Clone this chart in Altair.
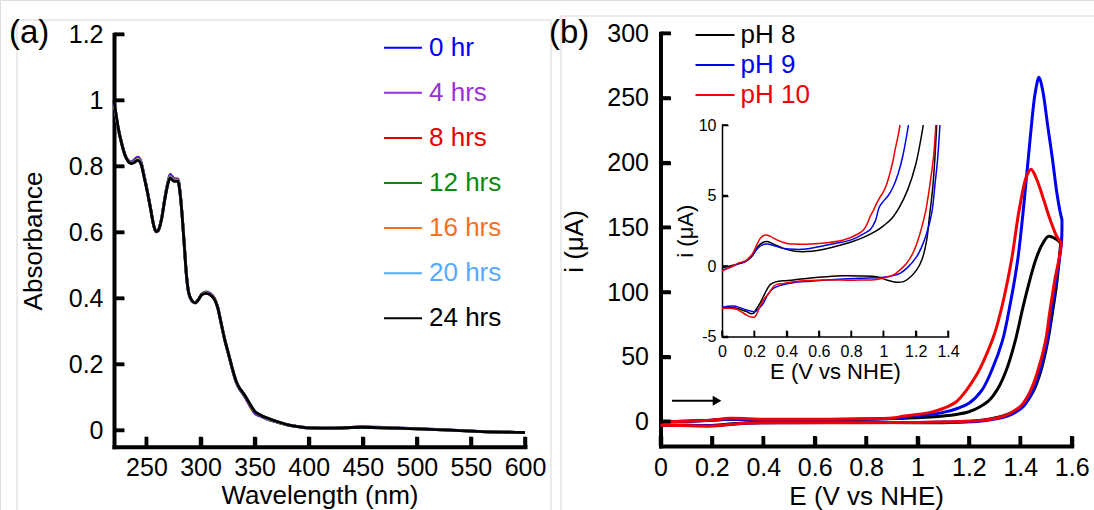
import altair as alt
import pandas as pd

FONT = "Liberation Sans"
W, H = 1094, 510

# ---------------- Panel (a): UV-vis spectra ----------------
wavelength_nm = [220, 222, 224, 227, 230, 233, 236, 239, 242, 245,
                 248, 251, 254, 257, 259, 261, 264, 267, 270, 272,
                 274, 276, 279, 281, 283, 285, 287, 289, 292, 295,
                 298, 301, 305, 309, 313, 316, 319, 322, 326, 330,
                 333, 336, 339, 342, 346, 350, 355, 360, 370, 380,
                 390, 400, 420, 450, 480, 500, 530, 560, 600]

series_a = ["0 hr", "4 hrs", "8 hrs", "12 hrs", "16 hrs", "20 hrs", "24 hrs"]
colors_a = ["#0000ff", "#9b30d9", "#e60000", "#0a8a0a", "#f5701e", "#55aaff", "#000000"]

abs_0hr = [0.990, 0.950, 0.912, 0.870, 0.836, 0.818, 0.813, 0.820, 0.828, 0.814,
           0.770, 0.722, 0.668, 0.617, 0.601, 0.606, 0.642, 0.704, 0.755, 0.775,
           0.768, 0.762, 0.762, 0.726, 0.652, 0.560, 0.468, 0.416, 0.392, 0.386,
           0.396, 0.412, 0.419, 0.414, 0.399, 0.372, 0.325, 0.279, 0.228, 0.177,
           0.145, 0.125, 0.111, 0.095, 0.072, 0.052, 0.043, 0.036, 0.025, 0.016,
           0.011, 0.007, 0.006, 0.010, 0.007, 0.005, 0.001, -0.004, -0.007]
abs_4hrs = [0.993, 0.952, 0.913, 0.870, 0.836, 0.817, 0.811, 0.817, 0.825, 0.811,
            0.768, 0.721, 0.668, 0.617, 0.601, 0.606, 0.641, 0.703, 0.753, 0.772,
            0.765, 0.760, 0.760, 0.724, 0.651, 0.560, 0.469, 0.417, 0.392, 0.386,
            0.396, 0.411, 0.418, 0.413, 0.398, 0.371, 0.325, 0.279, 0.229, 0.178,
            0.146, 0.126, 0.113, 0.097, 0.074, 0.054, 0.045, 0.037, 0.026, 0.016,
            0.011, 0.007, 0.006, 0.010, 0.007, 0.005, 0.001, -0.004, -0.007]
abs_8hrs = [0.995, 0.953, 0.914, 0.870, 0.836, 0.817, 0.810, 0.816, 0.823, 0.810,
            0.767, 0.721, 0.668, 0.617, 0.601, 0.606, 0.641, 0.702, 0.752, 0.770,
            0.763, 0.758, 0.759, 0.723, 0.651, 0.560, 0.469, 0.417, 0.393, 0.386,
            0.396, 0.411, 0.417, 0.412, 0.398, 0.371, 0.325, 0.280, 0.229, 0.179,
            0.147, 0.127, 0.114, 0.098, 0.075, 0.055, 0.045, 0.038, 0.026, 0.017,
            0.011, 0.007, 0.006, 0.009, 0.006, 0.004, 0.000, -0.004, -0.007]
abs_12hrs = [0.996, 0.954, 0.914, 0.870, 0.835, 0.816, 0.810, 0.815, 0.822, 0.809,
             0.767, 0.721, 0.668, 0.617, 0.602, 0.606, 0.641, 0.701, 0.751, 0.769,
             0.762, 0.757, 0.758, 0.722, 0.651, 0.560, 0.470, 0.417, 0.393, 0.386,
             0.395, 0.411, 0.417, 0.412, 0.397, 0.371, 0.325, 0.280, 0.229, 0.179,
             0.147, 0.127, 0.114, 0.099, 0.076, 0.056, 0.046, 0.038, 0.026, 0.017,
             0.011, 0.007, 0.006, 0.009, 0.006, 0.004, 0.000, -0.004, -0.007]
abs_16hrs = [0.997, 0.954, 0.915, 0.870, 0.835, 0.816, 0.809, 0.814, 0.821, 0.808,
             0.766, 0.720, 0.668, 0.617, 0.602, 0.606, 0.640, 0.701, 0.750, 0.768,
             0.761, 0.756, 0.757, 0.721, 0.650, 0.560, 0.470, 0.418, 0.393, 0.386,
             0.395, 0.410, 0.416, 0.411, 0.397, 0.370, 0.325, 0.280, 0.230, 0.180,
             0.148, 0.128, 0.115, 0.099, 0.077, 0.057, 0.046, 0.039, 0.027, 0.017,
             0.011, 0.007, 0.006, 0.009, 0.006, 0.004, 0.000, -0.004, -0.007]
abs_20hrs = [0.998, 0.955, 0.915, 0.870, 0.835, 0.815, 0.809, 0.813, 0.820, 0.807,
             0.766, 0.720, 0.668, 0.617, 0.602, 0.606, 0.640, 0.700, 0.749, 0.767,
             0.760, 0.755, 0.756, 0.720, 0.650, 0.560, 0.470, 0.418, 0.393, 0.386,
             0.395, 0.410, 0.415, 0.410, 0.396, 0.370, 0.325, 0.280, 0.230, 0.180,
             0.148, 0.128, 0.115, 0.100, 0.078, 0.058, 0.047, 0.039, 0.027, 0.017,
             0.011, 0.007, 0.006, 0.009, 0.006, 0.004, 0.000, -0.004, -0.007]
abs_24hrs = [1.000, 0.955, 0.915, 0.870, 0.835, 0.815, 0.808, 0.812, 0.818, 0.806,
             0.765, 0.720, 0.668, 0.617, 0.602, 0.606, 0.640, 0.700, 0.748, 0.765,
             0.758, 0.754, 0.755, 0.720, 0.650, 0.560, 0.470, 0.418, 0.393, 0.386,
             0.395, 0.410, 0.415, 0.410, 0.396, 0.370, 0.325, 0.280, 0.230, 0.180,
             0.148, 0.128, 0.115, 0.100, 0.078, 0.058, 0.047, 0.039, 0.027, 0.017,
             0.011, 0.007, 0.006, 0.009, 0.006, 0.004, 0.000, -0.004, -0.007]

a_xticks = [250, 300, 350, 400, 450, 500, 550, 600]
a_yticks = [0, 0.2, 0.4, 0.6, 0.8, 1.0, 1.2]

# ---------------- Panel (b): cyclic voltammograms ----------------
series_b = ["pH 8", "pH 9", "pH 10"]
colors_b = ["#000000", "#0000f0", "#f00000"]

# main plot, forward (anodic) and reverse scans
ph8_fwd_E = [0.0, 0.1, 0.2, 0.27, 0.4, 0.6, 0.8, 0.95, 1.05, 1.15, 1.2, 1.24, 1.282,
             1.32, 1.35, 1.38, 1.41, 1.438, 1.46, 1.483, 1.509, 1.535, 1.557]
ph8_fwd_i = [-0.2, 0.2, 0.9, 1.7, 1.2, 1.2, 1.7, 2.5, 3.4, 5.4, 7.5, 11, 17,
             28, 42, 62, 88, 110, 125, 136, 143, 141.5, 138]
ph8_rev_E = [1.557, 1.55, 1.54, 1.525, 1.505, 1.48, 1.45, 1.42, 1.38, 1.33, 1.27,
             1.2, 1.1, 1.0, 0.8, 0.5, 0.35, 0.28, 0.22, 0.18, 0.1, 0.0]
ph8_rev_i = [138, 122, 104, 84, 60, 39, 23, 14, 8, 4, 1.5,
             0, -1.0, -1.0, -0.7, -0.8, -1.1, -1.8, -3.0, -3.4, -3.0, -3.0]

ph9_fwd_E = [0.0, 0.1, 0.2, 0.27, 0.45, 0.6, 0.8, 0.94, 0.98, 1.02, 1.06, 1.1, 1.155,
             1.2, 1.25, 1.29, 1.33, 1.36, 1.39, 1.415, 1.44, 1.458, 1.473, 1.487,
             1.507, 1.525, 1.542, 1.555, 1.562]
ph9_fwd_i = [-0.3, 0.2, 0.9, 1.6, 1.2, 1.4, 1.8, 2.7, 4.2, 4.8, 5.6, 7.0, 10,
             14, 24, 40, 62, 90, 125, 170, 222, 254, 266, 256,
             228, 203, 177, 162, 156]
ph9_rev_E = [1.562, 1.56, 1.542, 1.522, 1.503, 1.47, 1.444, 1.412, 1.38, 1.347, 1.29,
             1.23, 1.1, 1.0, 0.8, 0.5, 0.35, 0.28, 0.22, 0.18, 0.1, 0.0]
ph9_rev_i = [156, 138, 112, 86, 61, 35, 22, 11.6, 7, 3.9, 1.5,
             0, -0.5, -0.8, -0.9, -1.0, -1.3, -2.2, -3.0, -3.2, -2.9, -2.9]

ph10_fwd_E = [0.0, 0.1, 0.2, 0.27, 0.4, 0.6, 0.8, 0.9, 0.95, 1.0, 1.05, 1.10, 1.15,
              1.19, 1.23, 1.26, 1.30, 1.33, 1.366, 1.396, 1.425, 1.442, 1.464, 1.49,
              1.516, 1.542, 1.56]
ph10_fwd_i = [-0.3, 0.2, 1.0, 2.4, 1.7, 1.7, 2.0, 2.6, 4.2, 5.3, 7.0, 10, 15,
              24, 36, 48, 68, 90, 125, 164, 190, 195, 187, 172,
              156, 143, 138]
ph10_rev_E = [1.56, 1.55, 1.535, 1.515, 1.498, 1.465, 1.438, 1.405, 1.37, 1.34, 1.28,
              1.23, 1.1, 1.0, 0.8, 0.5, 0.35, 0.28, 0.2, 0.15, 0.08, 0.0]
ph10_rev_i = [138, 125, 110, 85, 62, 37, 23, 12.5, 7.5, 4.5, 1.5,
              0.5, -0.5, -0.9, -1.0, -1.0, -1.3, -2.2, -3.6, -3.5, -3.1, -3.0]

# inset (zoom of the low-current region)
in8_fwd_E = [0, 0.05, 0.10, 0.15, 0.19, 0.22, 0.25, 0.28, 0.32, 0.38, 0.45, 0.52,
             0.60, 0.70, 0.80, 0.88, 0.95, 1.00, 1.05, 1.10, 1.15, 1.20, 1.247]
in8_fwd_i = [-0.15, 0.0, 0.15, 0.35, 0.75, 1.35, 1.65, 1.73, 1.55, 1.25, 1.05, 1.02,
             1.12, 1.38, 1.7, 2.05, 2.45, 2.85, 3.35, 4.2, 5.4, 7.2, 10]
in8_rev_E = [1.33, 1.318, 1.305, 1.285, 1.268, 1.24, 1.206, 1.16, 1.124, 1.08,
             1.02, 0.958, 0.855, 0.75, 0.648, 0.55, 0.442, 0.38, 0.339, 0.30,
             0.277, 0.255, 0.235, 0.21, 0.194, 0.17, 0.153, 0.12, 0.091, 0.05, 0]
in8_rev_i = [10, 7.5, 5.5, 3.5, 1.84, 0.5, -0.28, -0.85, -1.11, -1.15,
             -0.99, -0.76, -0.71, -0.7, -0.76, -0.85, -0.99, -1.05, -1.11, -1.3,
             -1.7, -2.2, -2.65, -3.1, -3.36, -3.35, -3.24, -3.1, -3.0, -2.95, -3.0]

in9_fwd_E = [0, 0.05, 0.10, 0.15, 0.19, 0.22, 0.25, 0.28, 0.32, 0.38, 0.45, 0.52,
             0.60, 0.70, 0.80, 0.88, 0.92, 0.95, 0.975, 1.00, 1.03, 1.06, 1.09, 1.12, 1.155]
in9_fwd_i = [-0.3, -0.1, 0.15, 0.35, 0.8, 1.25, 1.5, 1.56, 1.45, 1.25, 1.18, 1.2,
             1.37, 1.6, 1.85, 2.3, 2.6, 3.2, 4.2, 4.6, 5.0, 5.6, 6.5, 7.8, 10]
in9_rev_E = [1.35, 1.335, 1.32, 1.30, 1.268, 1.235, 1.206, 1.15, 1.103, 1.05, 1.0,
             0.855, 0.75, 0.648, 0.55, 0.442, 0.37, 0.318, 0.285, 0.256, 0.23, 0.204,
             0.18, 0.153, 0.11, 0.07, 0]
in9_rev_i = [10, 7.5, 5.86, 3.8, 2.32, 1.3, 0.66, -0.1, -0.52, -0.7, -0.8,
             -0.87, -0.92, -0.99, -1.08, -1.18, -1.35, -1.58, -2.0, -2.65, -3.0, -3.24,
             -3.2, -3.12, -2.95, -2.84, -2.93]

in10_fwd_E = [0, 0.05, 0.10, 0.15, 0.19, 0.215, 0.24, 0.27, 0.30, 0.34, 0.40, 0.47,
              0.545, 0.65, 0.752, 0.84, 0.876, 0.90, 0.917, 0.94, 0.958, 0.98, 1.0,
              1.02, 1.04, 1.06, 1.072, 1.09, 1.103]
in10_fwd_i = [-0.35, -0.1, 0.2, 0.4, 0.9, 1.5, 2.0, 2.2, 2.1, 1.85, 1.6, 1.55,
              1.56, 1.65, 1.84, 2.25, 2.55, 3.0, 3.5, 4.0, 4.44, 4.9, 5.27,
              5.8, 6.57, 7.5, 8.23, 9.2, 10]
in10_rev_E = [1.325, 1.31, 1.289, 1.26, 1.227, 1.19, 1.144, 1.10, 1.062, 1.0, 0.958,
              0.85, 0.75, 0.648, 0.55, 0.442, 0.38, 0.34, 0.318, 0.29, 0.256, 0.23,
              0.204, 0.18, 0.153, 0.12, 0.091, 0.05, 0]
in10_rev_i = [10, 7.7, 5.86, 3.8, 2.32, 1.1, 0.19, -0.3, -0.64, -0.85, -0.95,
              -1.0, -1.0, -0.99, -1.02, -1.11, -1.25, -1.3, -1.47, -1.95, -2.41, -3.0,
              -3.6, -3.62, -3.48, -3.25, -3.07, -3.0, -3.0]

b_xticks = [0, 0.2, 0.4, 0.6, 0.8, 1.0, 1.2, 1.4, 1.6]
b_yticks = [0, 50, 100, 150, 200, 250, 300]
in_xticks = [0, 0.2, 0.4, 0.6, 0.8, 1.0, 1.2, 1.4]
in_yticks = [-5, 0, 5, 10]

# scan-direction arrow
arrow_E = [0.045, 0.22]
arrow_head_E = [0.22]
arrow_i = 16

panel_labels = ["(a)", "(b)"]

# ---------------- data tables ----------------
rows = []
for s, vals in zip(series_a, [abs_0hr, abs_4hrs, abs_8hrs, abs_12hrs, abs_16hrs, abs_20hrs, abs_24hrs]):
    for w, v in zip(wavelength_nm, vals):
        rows.append({"wl": w, "A": v, "series": s})
df_a = pd.DataFrame(rows)


def cv_rows(sets):
    out = []
    for name, fE, fi, rE, ri in sets:
        k = 0
        for e, c in zip(fE, fi):
            out.append({"E": e, "i": c, "pH": name, "branch": "fwd", "idx": k})
            k += 1
        for e, c in zip(rE, ri):
            out.append({"E": e, "i": c, "pH": name, "branch": "rev", "idx": k})
            k += 1
    return pd.DataFrame(out)


df_b = cv_rows([
    ("pH 8", ph8_fwd_E, ph8_fwd_i, ph8_rev_E, ph8_rev_i),
    ("pH 9", ph9_fwd_E, ph9_fwd_i, ph9_rev_E, ph9_rev_i),
    ("pH 10", ph10_fwd_E, ph10_fwd_i, ph10_rev_E, ph10_rev_i),
])
df_in = cv_rows([
    ("pH 8", in8_fwd_E, in8_fwd_i, in8_rev_E, in8_rev_i),
    ("pH 9", in9_fwd_E, in9_fwd_i, in9_rev_E, in9_rev_i),
    ("pH 10", in10_fwd_E, in10_fwd_i, in10_rev_E, in10_rev_i),
])


# ---------------- helpers ----------------
def make_axis(orient, offset, values, title, lsize, tsize, lpad, dw, **kw):
    return alt.Axis(orient=orient, offset=offset, values=values, title=title,
                    format="~r", ticks=False, grid=False, domain=True,
                    domainColor="black", domainWidth=dw, domainCap="square",
                    labelFont=FONT, labelFontSize=lsize, labelColor="black",
                    labelPadding=lpad, labelFlush=False, labelOverlap=False,
                    labelExpr="replace(datum.label, '\u2212', '-')",
                    titleFont=FONT, titleFontSize=tsize, titleFontWeight="normal",
                    titleColor="black", **kw)


def tick_axis(orient, offset, values, size, width):
    # tick-only axis; a top/right axis placed on the bottom/left edge points its ticks inward
    return alt.Axis(orient=orient, offset=offset, values=values, title=None,
                    domain=False, labels=False, grid=False, ticks=True,
                    tickSize=size, tickWidth=width, tickColor="black")


def color_expr(names, cols):
    arr_c = "[" + ",".join("'%s'" % c for c in cols) + "]"
    arr_n = "[" + ",".join("'%s'" % n for n in names) + "]"
    return {"expr": "%s[indexof(%s, datum.label)]" % (arr_c, arr_n)}


def tick_layers(xticks, yticks, xdom, ydom, xrng, yrng, size, width):
    sx = alt.Scale(domain=xdom, range=xrng, nice=False, zero=False)
    sy = alt.Scale(domain=ydom, range=yrng, nice=False, zero=False)
    # axis-drawn inward ticks
    tx = alt.Chart(pd.DataFrame({"t": xticks})).mark_point(opacity=0).encode(
        x=alt.X("t:Q", scale=sx,
                axis=tick_axis("top", -yrng[0], xticks, size, width)))
    ty = alt.Chart(pd.DataFrame({"t": yticks})).mark_point(opacity=0).encode(
        y=alt.Y("t:Q", scale=sy,
                axis=tick_axis("right", xrng[0] - W, yticks, size, width)))
    # the same ticks as small bars through copies of the scales
    dx = size * (xdom[1] - xdom[0]) / abs(xrng[1] - xrng[0])
    dy = size * (ydom[1] - ydom[0]) / abs(yrng[1] - yrng[0])
    hx = width / 2 * (xdom[1] - xdom[0]) / abs(xrng[1] - xrng[0])
    hy = width / 2 * (ydom[1] - ydom[0]) / abs(yrng[1] - yrng[0])
    dfx = pd.DataFrame({"t0": [v - hx for v in xticks], "t1": [v + hx for v in xticks],
                        "b0": [ydom[0]] * len(xticks), "b1": [ydom[0] + dy] * len(xticks)})
    dfy = pd.DataFrame({"t0": [v - hy for v in yticks], "t1": [v + hy for v in yticks],
                        "b0": [xdom[0]] * len(yticks), "b1": [xdom[0] + dx] * len(yticks)})
    rx = alt.Chart(dfx).mark_rect(color="black", opacity=1).encode(
        x=alt.X("t0:Q", scale=sx, axis=None), x2="t1:Q",
        y=alt.Y("b0:Q", scale=sy, axis=None), y2="b1:Q")
    ry = alt.Chart(dfy).mark_rect(color="black", opacity=1).encode(
        y=alt.Y("t0:Q", scale=sy, axis=None), y2="t1:Q",
        x=alt.X("b0:Q", scale=sx, axis=None), x2="b1:Q")
    return [tx, ty, rx, ry]


# ---------------- light panel borders of the figure ----------------
FRAME = "#d6d6d6"
one = pd.DataFrame({"k": [0]})
frames = [
    alt.Chart(one).mark_rule(color=FRAME, strokeWidth=1).encode(
        x=alt.value(17), x2=alt.value(551), y=alt.value(20)),
    alt.Chart(one).mark_rule(color=FRAME, strokeWidth=1).encode(
        x=alt.value(17), y=alt.value(20), y2=alt.value(H)),
    alt.Chart(one).mark_rule(color=FRAME, strokeWidth=1).encode(
        x=alt.value(551), y=alt.value(20), y2=alt.value(H)),
    alt.Chart(one).mark_rule(color=FRAME, strokeWidth=1).encode(
        x=alt.value(561), x2=alt.value(W), y=alt.value(16)),
    alt.Chart(one).mark_rule(color=FRAME, strokeWidth=1).encode(
        x=alt.value(561), y=alt.value(16), y2=alt.value(H)),
]

# ---------------- panel (a) ----------------
xdom_a, xrng_a = [220, 600], [114, 525]
ydom_a, yrng_a = [-0.05, 1.2], [446.7, 34.3]
sx_a = alt.Scale(domain=xdom_a, range=xrng_a, nice=False, zero=False)
sy_a = alt.Scale(domain=ydom_a, range=yrng_a, nice=False, zero=False)
ax_a_x = make_axis("bottom", 446.7 - H, a_xticks, "Wavelength (nm)", 25, 26, 9, 4,
                   titleBaseline="alphabetic", titleY=57)
ax_a_y = make_axis("left", -114, a_yticks, "Absorbance", 25, 26, 11, 4,
                   titleBaseline="alphabetic", titleX=-73, titleY=240.5, titleAngle=270)
leg_a = alt.Legend(orient="none", legendX=383, legendY=27.7, title=None,
                   symbolType="stroke", symbolSize=1444, symbolStrokeWidth=2,
                   labelFont=FONT, labelFontSize=26, labelOffset=6, rowPadding=12.1,
                   padding=0, labelLimit=0, labelColor=color_expr(series_a, colors_a))

lines_a = alt.Chart(df_a).mark_line(strokeWidth=2.8, interpolate="monotone").encode(
    x=alt.X("wl:Q", scale=sx_a, axis=ax_a_x),
    y=alt.Y("A:Q", scale=sy_a, axis=ax_a_y),
    color=alt.Color("series:N", scale=alt.Scale(domain=series_a, range=colors_a), legend=leg_a),
)
ticks_a = tick_layers(a_xticks, a_yticks, xdom_a, ydom_a, xrng_a, yrng_a, 10, 3.5)

# ---------------- panel (b) main ----------------
xdom_b, xrng_b = [0, 1.6], [660.5, 1071.7]
ydom_b, yrng_b = [-19, 300], [446, 33.3]
sx_b = alt.Scale(domain=xdom_b, range=xrng_b, nice=False, zero=False)
sy_b = alt.Scale(domain=ydom_b, range=yrng_b, nice=False, zero=False)
ax_b_x = make_axis("bottom", 446 - H, b_xticks, "E (V vs NHE)", 25, 26, 9, 4,
                   titleBaseline="alphabetic", titleY=58)
ax_b_y = make_axis("left", -660.5, b_yticks, "i (μA)", 25, 26, 12, 4,
                   titleBaseline="alphabetic", titleX=-78, titleY=241, titleAngle=270)
# custom line symbol (twice as long as its nominal size) keeps the rows compact
leg_b = alt.Legend(orient="none", legendX=702, legendY=22, title=None,
                   symbolType="M-2,0H2", symbolSize=380, symbolStrokeWidth=2,
                   labelFont=FONT, labelFontSize=26, labelOffset=12.5, rowPadding=4,
                   padding=0, labelLimit=0, labelColor=color_expr(series_b, colors_b))

lines_b = alt.Chart(df_b).mark_line(strokeWidth=3, interpolate="catmull-rom").encode(
    x=alt.X("E:Q", scale=sx_b, axis=ax_b_x),
    y=alt.Y("i:Q", scale=sy_b, axis=ax_b_y),
    color=alt.Color("pH:N", scale=alt.Scale(domain=series_b, range=colors_b), legend=leg_b),
    order=alt.Order("idx:Q"),
)
arrow_line = alt.Chart(pd.DataFrame({"E": arrow_E, "i": [arrow_i] * len(arrow_E)})).mark_line(
    color="black", strokeWidth=2).encode(
    x=alt.X("E:Q", scale=sx_b, axis=None),
    y=alt.Y("i:Q", scale=sy_b, axis=None))
arrow_head = alt.Chart(pd.DataFrame({"E": arrow_head_E, "i": [arrow_i]})).mark_point(
    shape="triangle-right", filled=True, size=100, color="black", opacity=1).encode(
    x=alt.X("E:Q", scale=sx_b, axis=None),
    y=alt.Y("i:Q", scale=sy_b, axis=None))
ticks_b = tick_layers(b_xticks, b_yticks, xdom_b, ydom_b, xrng_b, yrng_b, 10, 3.5)

# ---------------- panel (b) inset ----------------
xdom_in, xrng_in = [0, 1.4], [722, 948]
ydom_in, yrng_in = [-5, 10], [336.5, 125]
sx_in = alt.Scale(domain=xdom_in, range=xrng_in, nice=False, zero=False)
sy_in = alt.Scale(domain=ydom_in, range=yrng_in, nice=False, zero=False)
ax_in_x = make_axis("bottom", 336.5 - H, in_xticks, "E (V vs NHE)", 16, 22, 7, 1.5,
                    titleBaseline="alphabetic", titleY=41.5)
ax_in_y = make_axis("left", -722, in_yticks, "i (μA)", 16, 22, 6, 1.5,
                    titleBaseline="alphabetic", titleX=-30, titleY=230.7, titleAngle=270)
lines_in = alt.Chart(df_in).mark_line(strokeWidth=1.5, interpolate="catmull-rom").encode(
    x=alt.X("E:Q", scale=sx_in, axis=ax_in_x),
    y=alt.Y("i:Q", scale=sy_in, axis=ax_in_y),
    color=alt.Color("pH:N", scale=alt.Scale(domain=series_b, range=colors_b), legend=None),
    detail="branch:N",
    order=alt.Order("idx:Q"),
)
ticks_in = tick_layers(in_xticks, in_yticks, xdom_in, ydom_in, xrng_in, yrng_in, 6, 1.5)

# ---------------- panel letters ----------------
lab_a = alt.Chart(pd.DataFrame({"t": [panel_labels[0]]})).mark_text(
    font=FONT, fontSize=33, align="left", baseline="alphabetic", color="black").encode(
    text="t:N", x=alt.value(9), y=alt.value(43))
lab_b = alt.Chart(pd.DataFrame({"t": [panel_labels[1]]})).mark_text(
    font=FONT, fontSize=33, align="left", baseline="alphabetic", color="black").encode(
    text="t:N", x=alt.value(549), y=alt.value(43))

chart = alt.layer(
    *frames,
    lines_a, *ticks_a,
    lines_b, arrow_line, arrow_head, *ticks_b,
    lines_in, *ticks_in,
    lab_a, lab_b,
).resolve_scale(
    x="independent", y="independent", color="independent"
).properties(
    width=W, height=H, padding=0, autosize=alt.AutoSizeParams(type="none"),
    background="white",
).configure_view(stroke=None).configure(font=FONT)

chart.save("out.html", embed_options={"renderer": "svg", "actions": False})
